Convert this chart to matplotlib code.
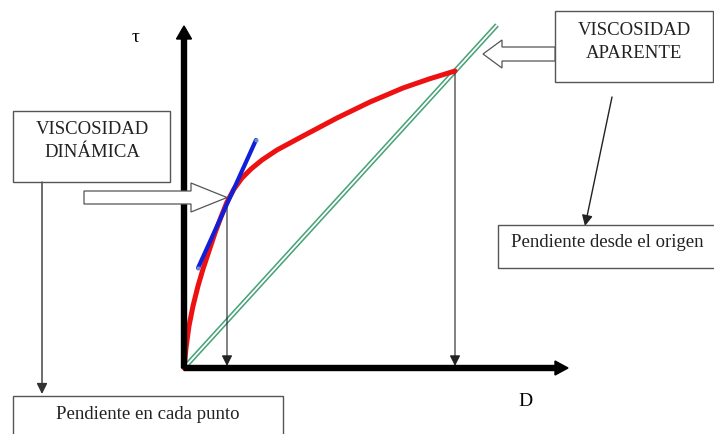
import matplotlib
matplotlib.use("Agg")
import matplotlib.pyplot as plt
from matplotlib.patches import FancyArrow, Rectangle

# Curva de flujo (D, tau)
D_curva = [0, 2, 5, 9, 14, 19, 25, 31, 37, 43, 50, 58, 67, 78, 93, 119, 153, 186, 219, 245, 271]
tau_curva = [0, 20, 42, 62, 82, 99, 117, 135, 151, 166, 179, 190, 199, 208, 218, 232, 250, 266, 280, 289, 297]

# Tangente en un punto (viscosidad dinamica)
D_tangente = [14, 72]
tau_tangente = [100, 228]

# Recta desde el origen (viscosidad aparente)
D_recta = [0, 313]
tau_recta = [0, 343]

# Puntos marcados sobre el eje D
D_marcas = [43, 271]
tau_marcas = [166, 297]

textos_cajas = ["VISCOSIDAD\nDINÁMICA", "VISCOSIDAD\nAPARENTE",
                "Pendiente en cada punto", "Pendiente desde el origen"]

plt.rcParams['font.family'] = ['Liberation Serif', 'DejaVu Serif']

fig = plt.figure(figsize=(7.14, 4.35), dpi=100)
ax = fig.add_axes([0, 0, 1, 1])
ax.set_xlim(-184, 530)
ax.set_ylim(-66, 369)
ax.axis('off')

# ejes
ax.add_patch(FancyArrow(0, 0, 384, 0, width=5, head_width=14, head_length=13,
                        length_includes_head=True, color='black', zorder=5))
ax.add_patch(FancyArrow(0, 0, 0, 342, width=5, head_width=15, head_length=13,
                        length_includes_head=True, color='black', zorder=5))
ax.text(-48, 332, "τ", fontsize=14, ha='center', va='center')
ax.text(341, -33, "D", fontsize=14, ha='center', va='center')

# recta doble verde
ax.plot(D_recta, tau_recta, color='#4aa37a', lw=3.6, zorder=2, solid_capstyle='butt')
ax.plot(D_recta, tau_recta, color='white', lw=1.3, zorder=2.1, solid_capstyle='butt')

# lineas verticales con flecha
for d, t in zip(D_marcas, tau_marcas):
    ax.annotate("", xy=(d, 2), xytext=(d, t),
                arrowprops=dict(arrowstyle='-|>', color='#222222', lw=0.8,
                                mutation_scale=16, shrinkA=0, shrinkB=0), zorder=3)

# curva roja
ax.plot(D_curva, tau_curva, color='#ee1111', lw=3.6, zorder=4,
        solid_capstyle='round', solid_joinstyle='round')

# tangente azul
ax.plot(D_tangente, tau_tangente, color='#1020d8', lw=3.0, zorder=4.5,
        solid_capstyle='round')
ax.scatter(D_tangente, tau_tangente, s=9, color='#6a8ad8', zorder=4.6, lw=0)

# cajas de texto
caja_kw = dict(fill=False, edgecolor='#555555', lw=1.0, zorder=6)
ax.add_patch(Rectangle((-171, 186), 157, 71, **caja_kw))
ax.add_patch(Rectangle((371, 286), 158, 71, **caja_kw))
ax.add_patch(Rectangle((-171, -80), 270, 52, **caja_kw))
ax.add_patch(Rectangle((314, 100), 220, 43, **caja_kw))

ax.text(-92, 228, textos_cajas[0], fontsize=13.5, ha='center', va='center',
        color='#222222', linespacing=1.45)
ax.text(450, 327, textos_cajas[1], fontsize=13.5, ha='center', va='center',
        color='#222222', linespacing=1.45)
ax.text(-36, -46, textos_cajas[2], fontsize=13.5, ha='center', va='center',
        color='#222222')
ax.text(423, 126, textos_cajas[3], fontsize=13.5, ha='center', va='center',
        color='#222222')

# flechas huecas
ax.add_patch(FancyArrow(-100, 170.5, 143, 0, width=13, head_width=29, head_length=36,
                        length_includes_head=True, facecolor='white',
                        edgecolor='#555555', lw=0.9, zorder=7))
ax.add_patch(FancyArrow(371, 314, -72, 0, width=14, head_width=28, head_length=19,
                        length_includes_head=True, facecolor='white',
                        edgecolor='#555555', lw=0.9, zorder=7))

# flechas hacia las cajas inferiores
ax.annotate("", xy=(-142, -26), xytext=(-142, 186),
            arrowprops=dict(arrowstyle='-|>', color='#333333', lw=1.0,
                            mutation_scale=16, shrinkA=0, shrinkB=0))
ax.annotate("", xy=(401, 142), xytext=(428, 271),
            arrowprops=dict(arrowstyle='-|>', color='#222222', lw=1.0,
                            mutation_scale=16, shrinkA=0, shrinkB=0))

fig.savefig("out.png", dpi=100, facecolor='white')
